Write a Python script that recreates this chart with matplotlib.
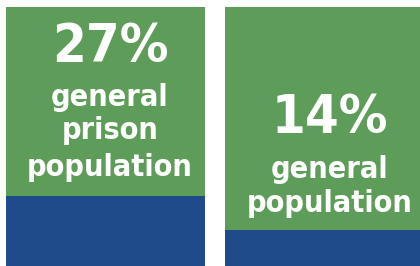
import matplotlib.pyplot as plt

# share of people, percent (blue part of each column)
groups = ['general prison population', 'general population']
percents = [27, 14]
big_labels = ['27%', '14%']
small_labels = [['general', 'prison', 'population'], ['general', 'population']]

green = '#5e9d59'
blue = '#204b8a'

fig = plt.figure(figsize=(4.2, 2.66), dpi=100)
ax = fig.add_axes([0, 0, 1, 1])

x = [0, 1]
width = 0.907
rest = [100 - p for p in percents]
ax.bar(x, percents, width=width, color=blue, linewidth=0)
ax.bar(x, rest, width=width, bottom=percents, color=green, linewidth=0)

ax.set_xlim(-0.481, 1.433)
ax.set_ylim(0, 100 * 266 / 259)
ax.axis('off')

font = 'DejaVu Sans'
# text rows, as fraction of the figure height from the bottom
big_y = [1 - 47 / 266, 1 - 118 / 266]
small_y = [[1 - 98 / 266, 1 - 131 / 266, 1 - 168 / 266],
           [1 - 170 / 266, 1 - 204 / 266]]

trans = ax.get_xaxis_transform()
for i in range(len(groups)):
    xc = x[i] + 0.02
    ax.text(xc, big_y[i], big_labels[i], transform=trans, ha='center', va='center',
            color='white', fontsize=39, fontweight='bold', family=font,
            stretch='condensed')
    for word, yy in zip(small_labels[i], small_y[i]):
        ax.text(xc, yy, word, transform=trans, ha='center', va='center',
                color='white', fontsize=22, fontweight='bold', family=font,
                stretch='condensed')

fig.savefig('out.png', dpi=100)
